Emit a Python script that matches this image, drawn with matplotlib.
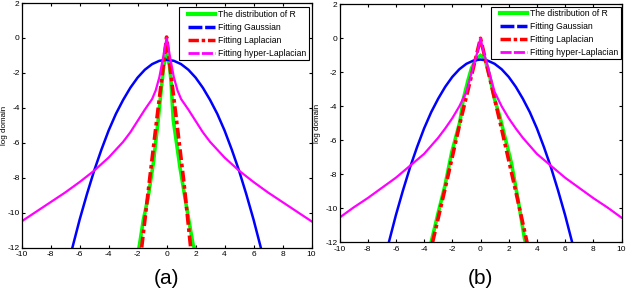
import matplotlib
matplotlib.use("Agg")
import matplotlib.pyplot as plt
from matplotlib.lines import Line2D
from matplotlib.legend_handler import HandlerLine2D

plt.rcParams['font.family'] = ['Liberation Sans', 'DejaVu Sans']
plt.rcParams['axes.unicode_minus'] = False

# ---------------- data ----------------
legend_labels = ["The distribution of R", "Fitting Gaussian", "Fitting Laplacian", "Fitting hyper-Laplacian"]
panel_labels = ["(a)", "(b)"]
x_ticks = [-10, -8, -6, -4, -2, 0, 2, 4, 6, 8, 10]
y_ticks = [-12, -10, -8, -6, -4, -2, 0, 2]

gauss_x = [-6.5, -6, -5.5, -5, -4.5, -4, -3.5, -3, -2.5, -2, -1.5, -1, -0.5, 0,
           0.5, 1, 1.5, 2, 2.5, 3, 3.5, 4, 4.5, 5, 5.5, 6, 6.5]
gauss_y = [-12.0, -10.4, -8.95, -7.6, -6.4, -5.3, -4.35, -3.55, -2.85, -2.27, -1.82, -1.5, -1.31, -1.25,
           -1.31, -1.5, -1.82, -2.27, -2.85, -3.55, -4.35, -5.3, -6.4, -7.6, -8.95, -10.4, -12.0]

hyp_a_x = [-10, -9, -8, -7, -6, -5, -4, -3, -2.5, -2, -1.5, -1, -0.75, -0.5, -0.25, 0,
           0.25, 0.5, 0.75, 1, 1.5, 2, 2.5, 3, 4, 5, 6, 7, 8, 9, 10]
hyp_a_y = [-10.5, -9.95, -9.4, -8.85, -8.25, -7.6, -6.85, -5.95, -5.4, -4.75, -4.1, -3.5, -3.0, -2.25, -1.15, 0.0,
           -1.15, -2.25, -3.0, -3.5, -4.1, -4.75, -5.4, -5.95, -6.85, -7.6, -8.25, -8.85, -9.4, -9.95, -10.5]

lap_a_x = [-1.72, -1.2, -0.69, -0.3, 0, 0.3, 0.69, 1.2, 1.66]
lap_a_y = [-12.0, -8.3, -4.75, -2.1, 0.05, -2.1, -4.75, -8.3, -12.0]

dist_a_x = [-1.9, -1.6, -1.27, -0.92, -0.58, -0.4, -0.2, 0, 0.2, 0.3, 0.46, 0.92, 1.38, 1.84, 1.92]
dist_a_y = [-12.0, -10.4, -9.1, -7.2, -4.7, -3.2, -1.6, -0.85, -1.6, -2.4, -4.7, -7.4, -9.7, -11.9, -12.0]

hyp_b_x = [-10, -9, -8, -7, -6, -5, -4, -3, -2.5, -2, -1.5, -1, -0.75, -0.5, -0.25, 0,
           0.25, 0.5, 0.75, 1, 1.5, 2, 2.5, 3, 4, 5, 6, 7, 8, 9, 10]
hyp_b_y = [-10.55, -9.95, -9.4, -8.8, -8.2, -7.5, -6.8, -5.85, -5.3, -4.7, -4.0, -3.15, -2.4, -1.6, -0.9, 0.0,
           -0.9, -1.6, -2.4, -3.15, -4.0, -4.7, -5.3, -5.85, -6.8, -7.5, -8.2, -8.8, -9.4, -9.95, -10.55]

lap_b_x = [-3.4, -2.5, -1.46, -0.7, 0, 0.7, 1.46, 2.5, 3.3]
lap_b_y = [-12.0, -8.8, -5.0, -2.4, 0.0, -2.5, -5.2, -9.0, -12.0]

dist_b_x = [-3.5, -3.0, -2.53, -2.05, -1.46, -1.23, -0.88, -0.64, -0.3, 0,
            0.3, 0.66, 1.01, 1.37, 1.49, 2.19, 2.66, 3.13, 3.2]
dist_b_y = [-12.0, -10.26, -8.7, -6.74, -4.9, -3.62, -2.45, -1.76, -1.2, -1.0,
            -1.17, -2.25, -3.62, -4.6, -5.0, -7.33, -9.48, -11.83, -12.0]

panels = [
    dict(dist=(dist_a_x, dist_a_y), gauss=(gauss_x, gauss_y), lap=(lap_a_x, lap_a_y), hyp=(hyp_a_x, hyp_a_y)),
    dict(dist=(dist_b_x, dist_b_y), gauss=(gauss_x, gauss_y), lap=(lap_b_x, lap_b_y), hyp=(hyp_b_x, hyp_b_y)),
]

# ---------------- figure ----------------
W, H = 626, 294
fig = plt.figure(figsize=(W / 100, H / 100), dpi=100)

axes_px = [(21.7, 3.0, 311.5, 247.5), (339.5, 4.3, 621.5, 242.3)]  # left, top, right, bottom
legend_anchor = [(0.991, 0.982), (0.997, 0.990)]
ylabel_x = [-0.047, -0.066]

GREEN = (0, 1, 0)
BLUE = (0, 0, 1)
RED = (1, 0, 0)
MAG = (1, 0, 1)

for i, p in enumerate(panels):
    l, t, r, b = axes_px[i]
    ax = fig.add_axes([l / W, 1 - b / H, (r - l) / W, (b - t) / H])
    ax.plot(*p['dist'], color=GREEN, lw=2.6, solid_joinstyle='miter')
    ax.plot(*p['gauss'], color=BLUE, lw=1.8)
    ax.plot(*p['lap'], color=RED, lw=2.6, ls=(0, (3, 1, 1, 1)))
    ax.plot(*p['hyp'], color=MAG, lw=1.6)
    ax.set_xlim(-10, 10)
    ax.set_ylim(-12, 2)
    ax.set_xticks(x_ticks)
    ax.set_yticks(y_ticks)
    ax.tick_params(direction='in', length=2.5, width=0.8, labelsize=6, pad=1.5,
                   top=True, right=True, colors='black')
    ax.tick_params(axis='x', pad=2.5)
    for s in ax.spines.values():
        s.set_linewidth(0.9)
    ax.set_ylabel("log domain", fontsize=5.8, labelpad=0)
    ax.yaxis.set_label_coords(ylabel_x[i], 0.5)

    handles = [
        Line2D([], [], color=GREEN, lw=3),
        Line2D([], [], color=BLUE, lw=2.5, ls=(0, (4, 0.8))),
        Line2D([], [], color=RED, lw=2.5, ls=(0, (3, 0.8, 1, 0.8))),
        Line2D([], [], color=MAG, lw=2, ls=(0, (4, 0.8))),
    ]
    hmap = {h: HandlerLine2D(xpad=0.75) for h in handles}
    leg = ax.legend(handles, legend_labels, loc='upper right', bbox_to_anchor=legend_anchor[i],
                    fontsize=6.2, frameon=True, fancybox=False, framealpha=1,
                    edgecolor='black', borderpad=0.3, labelspacing=0.45,
                    handlelength=3.9, handletextpad=0.35, borderaxespad=0,
                    handler_map=hmap)
    leg.get_frame().set_linewidth(0.8)

    cx = (l + r) / 2 / W
    fig.text(cx, 1 - 279 / H, panel_labels[i], fontsize=15, ha='center', va='center')

fig.savefig("out.png", dpi=100)
